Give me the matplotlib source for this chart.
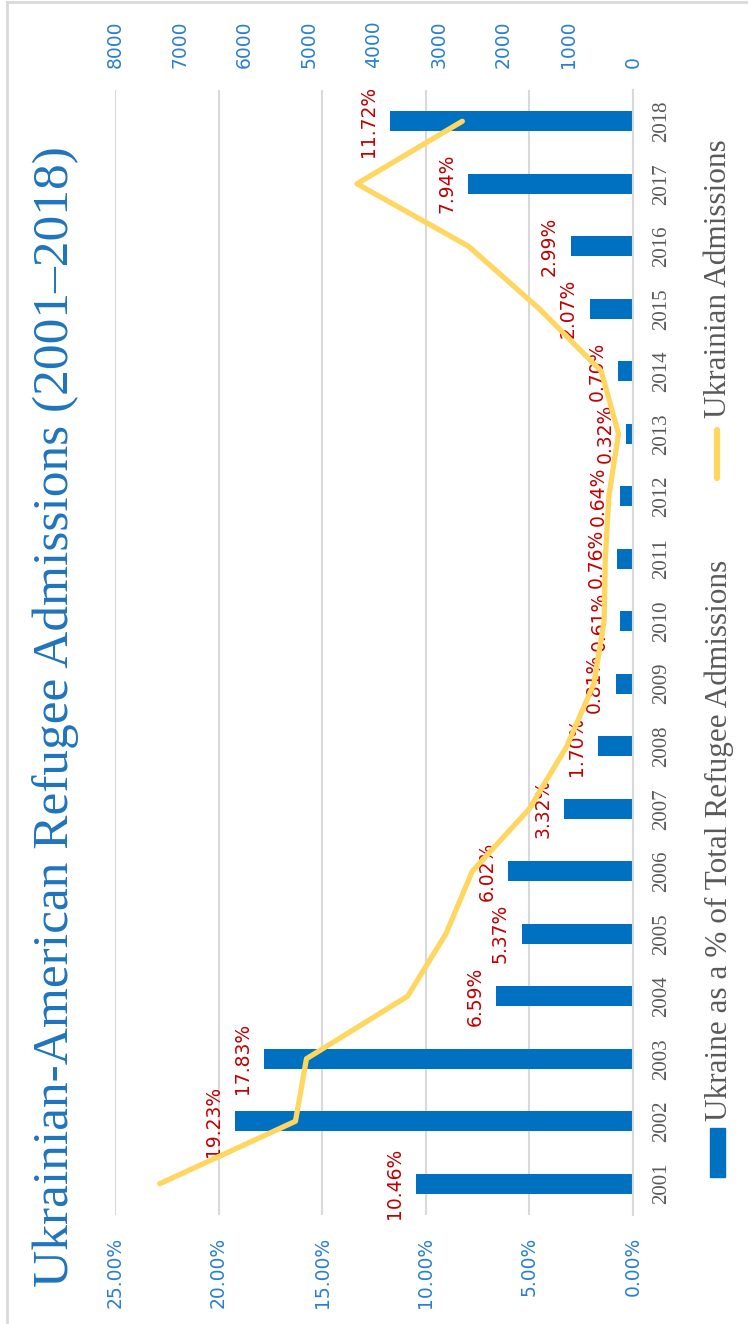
import matplotlib
matplotlib.use('Agg')
import matplotlib.pyplot as plt
from matplotlib.lines import Line2D
from matplotlib.patches import Rectangle

# data
years = list(range(2001, 2019))
share_pct = [10.46, 19.23, 17.83, 6.59, 5.37, 6.02, 3.32, 1.70, 0.81,
             0.61, 0.76, 0.64, 0.32, 0.70, 2.07, 2.99, 7.94, 11.72]
admissions = [7310, 5213, 5043, 3482, 2889, 2482, 1601, 1022, 605,
              447, 428, 373, 224, 490, 1448, 2541, 4264, 2636]
pct_ticks = [0, 5, 10, 15, 20, 25]
count_ticks = [0, 1000, 2000, 3000, 4000, 5000, 6000, 7000, 8000]

title = 'Ukrainian-American Refugee Admissions (2001\u20132018)'
bar_name = 'Ukraine as a % of Total Refugee Admissions'
line_name = 'Ukrainian Admissions'

BLUE = '#0070c0'
TICK_BLUE = '#2b7fd0'
GOLD = '#ffd660'
RED = '#c00000'
GRID = '#d9d9d9'
GREY = '#595959'
SERIF = 'Liberation Serif'

W, H = 748, 1324
fig = plt.figure(figsize=(W / 100, H / 100), dpi=100)


def fx(px):
    return px / W


def fy(py):
    return 1 - py / H


# plot area (the whole chart is turned on its side)
ax = fig.add_axes([fx(115), fy(1215), fx(633) - fx(115), fy(90) - fy(1215)])
ax.barh(years, share_pct, height=0.32, color=BLUE, zorder=2)
ax.set_xlim(25, 0)
ax.set_ylim(2000.5, 2018.5)
ax.set_xticks(pct_ticks)
ax.set_xticklabels([f'{v:.2f}%' for v in pct_ticks])
ax.tick_params(axis='x', length=0, rotation=90, labelsize=13.5,
               labelcolor=TICK_BLUE, pad=16)
ax.xaxis.grid(True, color=GRID, linewidth=1.5)
ax.set_axisbelow(True)

ax.yaxis.tick_right()
ax.set_yticks(years)
ax.set_yticklabels([str(y) for y in years])
ax.tick_params(axis='y', length=0, labelsize=15, labelcolor=GREY, pad=14)
for lbl in ax.get_yticklabels():
    lbl.set_rotation(90)
    lbl.set_va('center')
    lbl.set_ha('left')
    lbl.set_family(SERIF)

for s in ['top', 'left', 'bottom']:
    ax.spines[s].set_visible(False)
ax.spines['right'].set_color(GRID)
ax.spines['right'].set_linewidth(1.5)

# data labels
for y, p in zip(years, share_pct):
    ax.annotate(f'{p:.2f}%', xy=(p, y), xytext=(-12, 0),
                textcoords='offset pixels', rotation=90, ha='right',
                va='center', fontsize=13.5, color=RED, zorder=3)

# secondary axis for the admissions line
ax2 = ax.twiny()
ax2.plot(admissions, years, color=GOLD, linewidth=3.8,
         solid_capstyle='round', solid_joinstyle='round')
ax2.set_xlim(8000, 0)
ax2.set_xticks(count_ticks)
ax2.set_xticklabels([str(c) for c in count_ticks])
ax2.tick_params(axis='x', length=0, rotation=90, labelsize=13.5,
                labelcolor=TICK_BLUE, pad=16)
for s in ax2.spines.values():
    s.set_visible(False)

# title
fig.text(fx(56), fy(717), title, rotation=90, ha='center', va='center',
         fontsize=37, color='#1f74bd', family=SERIF)

# legend, drawn by hand so it can stand on its side
fig.patches.append(Rectangle((fx(710), fy(1177)), fx(15), fy(1128) - fy(1177),
                             transform=fig.transFigure, color=BLUE))
fig.text(fx(719), fy(840), bar_name, rotation=90, ha='center', va='center',
         fontsize=22.5, color=GREY, family=SERIF)
fig.lines.append(Line2D([fx(717), fx(717)], [fy(478), fy(430)],
                        transform=fig.transFigure, color=GOLD, linewidth=4.5,
                        solid_capstyle='round'))
fig.text(fx(719), fy(279), line_name, rotation=90, ha='center', va='center',
         fontsize=22.5, color=GREY, family=SERIF)

# chart frame
fig.lines.append(Line2D([fx(7), fx(748)], [fy(2), fy(2)],
                        transform=fig.transFigure, color=GRID, linewidth=2))
fig.lines.append(Line2D([fx(7), fx(7)], [fy(2), fy(1324)],
                        transform=fig.transFigure, color=GRID, linewidth=2))

fig.savefig('out.png', dpi=100, facecolor='white')
